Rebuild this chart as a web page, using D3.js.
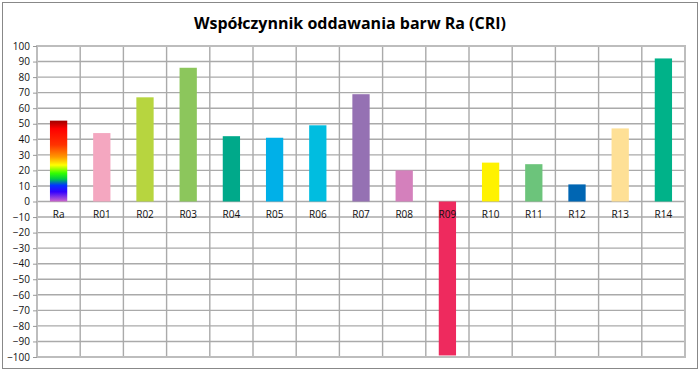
<!DOCTYPE html>
<html lang="pl">
<head>
    <meta charset="UTF-8">
    <title>CRI</title>
    <script src="https://d3js.org/d3.v7.min.js"></script>
</head>
<body style="margin:0;background:#fff">

<style>
    .axis text {
        fill: #111;
        font: 10px "Open Sans", sans-serif;
    }
    .axis path { display: none; }
    .axis line { stroke: #999; }
    .grid line { stroke: #aaa; stroke-width: 1.4; }
    .title { font: bold 16px "Open Sans", sans-serif; }
</style>

<script type="text/javascript">

    var categories = ["Ra", "R01", "R02", "R03", "R04", "R05", "R06", "R07",
                      "R08", "R09", "R10", "R11", "R12", "R13", "R14"];
    var values = [52, 44, 67, 86, 42, 41, 49, 69, 20, -99, 25, 24, 11, 47, 92];
    var colors = ["url(#rainbow)", "#f4a7c0", "#b7d53f", "#8cc65c", "#00a98a", "#00b0e8",
                  "#00bde0", "#9571b3", "#d480bc", "#ee2a5e", "#fff200", "#6cc47b",
                  "#0066b3", "#fee096", "#00b289"];
    var yTicks = d3.range(-100, 101, 10);

    var W = 700, H = 371;
    var margins = {top: 46, right: 15, bottom: 14, left: 37},
        width = 685 - margins.left,
        height = 357 - margins.top;

    var root = d3.select("body").append("svg")
        .attr("width", W)
        .attr("height", H);

    var defs = root.append("defs");
    var grad = defs.append("linearGradient")
        .attr("id", "rainbow")
        .attr("x1", 0).attr("y1", 0).attr("x2", 0).attr("y2", 1);
    [["0%", "#a00000"], ["10%", "#ff0000"], ["30%", "#ff3300"], ["45%", "#ff9900"],
     ["55%", "#ffff00"], ["65%", "#33ff00"], ["72%", "#00cc44"], ["80%", "#0033ff"],
     ["88%", "#3300ff"], ["100%", "#cc66cc"]].forEach(function(s) {
        grad.append("stop").attr("offset", s[0]).attr("stop-color", s[1]);
    });

    // outer frame
    root.append("rect")
        .attr("x", 2.5).attr("y", 2.5)
        .attr("width", W - 5).attr("height", H - 5)
        .attr("fill", "#fff")
        .attr("stroke", "#888");

    root.append("text")
        .attr("class", "title")
        .attr("x", 350).attr("y", 29)
        .attr("text-anchor", "middle")
        .text("Współczynnik oddawania barw Ra (CRI)");

    var svg = root.append("g")
        .attr("transform", "translate(" + margins.left + "," + margins.top + ")");

    var xScale = d3.scaleBand().domain(categories).range([0, width]);
    var yScale = d3.scaleLinear().domain([-100, 100]).range([height, 0]);

    // gridlines
    var grid = svg.append("g").attr("class", "grid");
    grid.selectAll("line.h").data(yTicks).enter().append("line")
        .attr("class", "h")
        .attr("x1", 0).attr("x2", width)
        .attr("y1", function(d) { return yScale(d); })
        .attr("y2", function(d) { return yScale(d); });
    grid.selectAll("line.v").data(categories).enter().append("line")
        .attr("class", "v")
        .attr("x1", function(d) { return xScale(d); })
        .attr("x2", function(d) { return xScale(d); })
        .attr("y1", 0).attr("y2", height);

    svg.append("rect")
        .attr("width", width).attr("height", height)
        .attr("fill", "none")
        .attr("stroke", "#bdbdbd")
        .attr("stroke-width", 2);

    var yAxis = d3.axisLeft(yScale).tickValues(yTicks).tickSize(4).tickPadding(3);
    svg.append("g").attr("class", "y axis").call(yAxis);

    var bw = xScale.bandwidth() * 0.4;
    svg.selectAll("rect.bar")
        .data(values).enter()
        .append("rect")
        .attr("class", "bar")
        .attr("x", function(d, i) { return xScale(categories[i]) + (xScale.bandwidth() - bw) / 2; })
        .attr("width", bw)
        .attr("y", function(d) { return yScale(Math.max(0, d)); })
        .attr("height", function(d) { return Math.abs(yScale(d) - yScale(0)); })
        .style("fill", function(d, i) { return colors[i]; });

    var xAxis = d3.axisBottom(xScale).tickSize(0).tickPadding(9);
    svg.append("g")
        .attr("class", "x axis")
        .attr("transform", "translate(0," + yScale(0) + ")")
        .call(xAxis);

</script>

</body>
</html>
